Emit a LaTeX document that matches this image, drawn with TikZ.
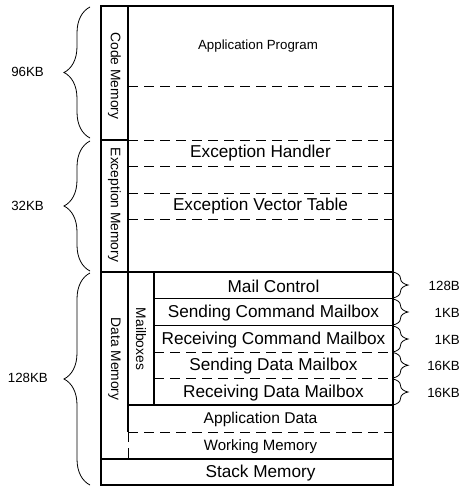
\documentclass[tikz,border=0pt]{standalone}
\usepackage{fontspec}
\setmainfont{Liberation Sans}
\usetikzlibrary{decorations.pathreplacing}
\begin{document}
\begin{tikzpicture}[x=1pt,y=-1pt,
  solidline/.style={line width=1.3pt},
  dashline/.style={line width=1pt, dash pattern=on 10pt off 6pt},
  txtbase/.style={inner sep=0pt, yshift=-1.2pt},
  bigtxt/.style={txtbase, font=\fontsize{17.2}{19}\selectfont},
  midtxt/.style={txtbase, font=\fontsize{15.6}{17}\selectfont},
  wmtxt/.style={txtbase, font=\fontsize{15}{17}\selectfont},
  smalltxt/.style={txtbase, font=\fontsize{13.3}{15}\selectfont},
  vtxt/.style={font=\fontsize{13.8}{15}\selectfont, inner sep=0pt, rotate=-90},
  sizetxt/.style={txtbase, font=\fontsize{13.3}{15}\selectfont},
  lbrace/.style={decorate, decoration={brace, amplitude=26pt}, line width=0.8pt},
  rbrace/.style={decorate, decoration={brace, amplitude=15pt}, line width=0.8pt}
]
\useasboundingbox (0,0) rectangle (462,487);

% outer frame
\draw[solidline] (101,6) rectangle (393,485);
% column line of the memory labels
\draw[solidline] (128,6) -- (128,432);
\draw[dashline] (128,432) -- (128,459);
% code / exception boundary
\draw[solidline] (101,140) -- (128,140);
\draw[dashline] (128,140) -- (393,140);
\draw[dashline] (128,86) -- (393,86);
% exception rows
\draw[dashline] (128,166) -- (393,166);
\draw[dashline] (128,193) -- (393,193);
\draw[dashline] (128,219) -- (393,219);
% data memory
\draw[solidline] (101,272) -- (393,272);
\draw[solidline] (154,272) -- (154,405);
\draw[solidline] (154,298.5) -- (393,298.5);
\draw[solidline] (154,325.5) -- (393,325.5);
\draw[dashline] (154,352) -- (393,352);
\draw[dashline] (154,378.5) -- (393,378.5);
\draw[solidline] (128,405) -- (393,405);
\draw[dashline] (128,432) -- (393,432);
\draw[solidline] (101,459) -- (393,459);

% texts
\node[smalltxt] (app) at (258,45) {Application Program};
\node[bigtxt] (exh) at (260.5,152) {Exception Handler};
\node[bigtxt] (evt) at (260.5,205) {Exception Vector Table};
\node[bigtxt] (mc) at (273.5,285) {Mail Control};
\node[bigtxt] (scm) at (273.5,312) {Sending Command Mailbox};
\node[bigtxt] (rcm) at (273.5,339) {Receiving Command Mailbox};
\node[bigtxt] (sdm) at (273.5,365) {Sending Data Mailbox};
\node[bigtxt] (rdm) at (273.5,392) {Receiving Data Mailbox};
\node[midtxt] (apd) at (260.5,418) {Application Data};
\node[wmtxt] (wm) at (260.5,445) {Working Memory};
\node[bigtxt] (stk) at (260.5,472) {Stack Memory};

\node[vtxt] (cm) at (114.5,76) {Code Memory};
\node[vtxt] (em) at (114.5,205) {Exception Memory};
\node[vtxt] (dm) at (114.5,359) {Data Memory};
\node[vtxt] (mb) at (141,339) {Mailboxes};

% left braces
\draw[lbrace] (90,138) -- (90,7);
\draw[lbrace] (90,271) -- (90,141);
\draw[lbrace] (90,485) -- (90,273);
\node[sizetxt, anchor=east] (s96) at (44,71) {96KB};
\node[sizetxt, anchor=east] (s32) at (44,205) {32KB};
\node[sizetxt, anchor=east] (s128) at (48,377) {128KB};

% right braces
\draw[rbrace] (393,272) -- (393,298);
\draw[rbrace] (393,299) -- (393,325);
\draw[rbrace] (393,326) -- (393,352);
\draw[rbrace] (393,352.5) -- (393,378);
\draw[rbrace] (393,379) -- (393,405);
\node[sizetxt, anchor=east] (r1) at (460,285) {128B};
\node[sizetxt, anchor=east] (r2) at (460,312) {1KB};
\node[sizetxt, anchor=east] (r3) at (460,339) {1KB};
\node[sizetxt, anchor=east] (r4) at (460,365) {16KB};
\node[sizetxt, anchor=east] (r5) at (460,392) {16KB};
\end{tikzpicture}
\end{document}
